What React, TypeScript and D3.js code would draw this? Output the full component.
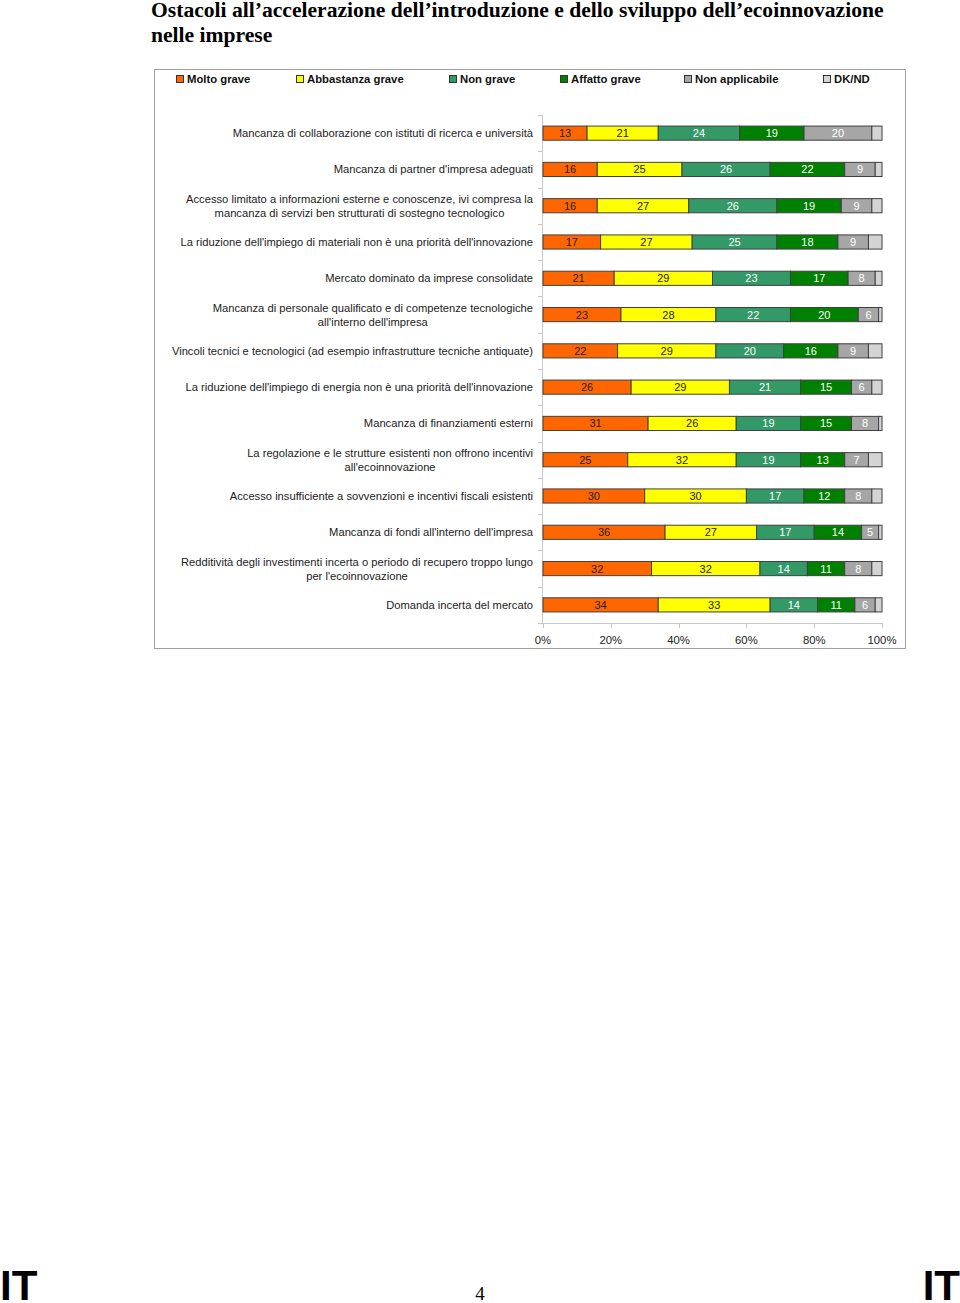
import React, { useRef, useEffect } from 'react';
import * as d3 from 'd3';

const categories: string[][] = [
  ['Mancanza di collaborazione con istituti di ricerca e università'],
  ["Mancanza di partner d'impresa adeguati"],
  ['Accesso limitato a informazioni esterne e conoscenze, ivi compresa la', 'mancanza di servizi ben strutturati di sostegno tecnologico'],
  ["La riduzione dell'impiego di materiali non è una priorità dell'innovazione"],
  ['Mercato dominato da imprese consolidate'],
  ['Mancanza di personale qualificato e di competenze tecnologiche', "all'interno dell'impresa"],
  ['Vincoli tecnici e tecnologici (ad esempio infrastrutture tecniche antiquate)'],
  ["La riduzione dell'impiego di energia non è una priorità dell'innovazione"],
  ['Mancanza di finanziamenti esterni'],
  ['La regolazione e le strutture esistenti non offrono incentivi', "all'ecoinnovazione"],
  ['Accesso insufficiente a sovvenzioni e incentivi fiscali esistenti'],
  ["Mancanza di fondi all'interno dell'impresa"],
  ['Redditività degli investimenti incerta o periodo di recupero troppo lungo', "per l'ecoinnovazione"],
  ['Domanda incerta del mercato'],
];

const seriesNames = ['Molto grave', 'Abbastanza grave', 'Non grave', 'Affatto grave', 'Non applicabile', 'DK/ND'];
const seriesColors = ['#FF6600', '#FFFF00', '#339966', '#008000', '#A6A6A6', '#D4D4D4'];
const labelColors = ['#222', '#222', '#fff', '#fff', '#fff', '#fff'];

const moltoGrave = [13, 16, 16, 17, 21, 23, 22, 26, 31, 25, 30, 36, 32, 34];
const abbastanzaGrave = [21, 25, 27, 27, 29, 28, 29, 29, 26, 32, 30, 27, 32, 33];
const nonGrave = [24, 26, 26, 25, 23, 22, 20, 21, 19, 19, 17, 17, 14, 14];
const affattoGrave = [19, 22, 19, 18, 17, 20, 16, 15, 15, 13, 12, 14, 11, 11];
const nonApplicabile = [20, 9, 9, 9, 8, 6, 9, 6, 8, 7, 8, 5, 8, 6];
const dkNd = [3, 2, 3, 4, 2, 1, 4, 3, 1, 4, 3, 1, 3, 2];

const xTicks = [0, 20, 40, 60, 80, 100];

const font = 'Liberation Sans, Arial, sans-serif';

export default function App() {
  const ref = useRef<SVGSVGElement | null>(null);

  useEffect(() => {
    if (!ref.current) return;
    const svg = d3.select(ref.current);
    svg.selectAll('*').remove();

    const series = [moltoGrave, abbastanzaGrave, nonGrave, affattoGrave, nonApplicabile, dkNd];

    // title
    const title = svg.append('text')
      .attr('font-family', 'Liberation Serif, Times New Roman, serif')
      .attr('font-weight', 'bold')
      .attr('font-size', 21.6)
      .attr('fill', '#000');
    title.append('tspan').attr('x', 151).attr('y', 17).text('Ostacoli all’accelerazione dell’introduzione e dello sviluppo dell’ecoinnovazione');
    title.append('tspan').attr('x', 151).attr('y', 42).text('nelle imprese');

    // frame
    svg.append('rect')
      .attr('x', 154.5).attr('y', 69.5)
      .attr('width', 751).attr('height', 579)
      .attr('fill', '#fff')
      .attr('stroke', '#a0a0a0');

    // legend
    const legendX = [176, 296, 449, 560, 684, 823];
    const legend = svg.append('g');
    seriesNames.forEach((name, i) => {
      legend.append('rect')
        .attr('x', legendX[i] + 0.5).attr('y', 75.5)
        .attr('width', 7).attr('height', 7)
        .attr('fill', seriesColors[i])
        .attr('stroke', '#333');
      legend.append('text')
        .attr('x', legendX[i] + 11).attr('y', 83)
        .attr('font-family', font)
        .attr('font-size', 11.3)
        .attr('font-weight', 'bold')
        .attr('fill', '#111')
        .text(name);
    });

    const x = d3.scaleLinear().domain([0, 100]).range([543, 882]);
    const y = d3.scaleBand<number>()
      .domain(d3.range(categories.length))
      .range([115, 623])
      .paddingInner(0.61)
      .paddingOuter(0.305);
    const step = y.step();

    // axes
    svg.append('line')
      .attr('x1', 542.5).attr('x2', 542.5)
      .attr('y1', 115).attr('y2', 623)
      .attr('stroke', '#c8c8c8');
    d3.range(categories.length + 1).forEach(i => {
      const yy = Math.round(115 + i * step) + 0.5;
      svg.append('line')
        .attr('x1', 538).attr('x2', 543)
        .attr('y1', yy).attr('y2', yy)
        .attr('stroke', '#c8c8c8');
    });
    svg.append('line')
      .attr('x1', 542).attr('x2', 882)
      .attr('y1', 623.5).attr('y2', 623.5)
      .attr('stroke', '#c8c8c8');
    xTicks.forEach(t => {
      svg.append('line')
        .attr('x1', Math.round(x(t)) + 0.5).attr('x2', Math.round(x(t)) + 0.5)
        .attr('y1', 623).attr('y2', 628)
        .attr('stroke', '#c8c8c8');
      svg.append('text')
        .attr('x', x(t)).attr('y', 644)
        .attr('text-anchor', 'middle')
        .attr('font-family', font)
        .attr('font-size', 11.3)
        .attr('fill', '#222')
        .text(`${t}%`);
    });

    // category labels
    categories.forEach((lines, i) => {
      const cy = (y(i) as number) + y.bandwidth() / 2;
      const g = svg.append('g');
      const texts = lines.map((ln, j) =>
        g.append('text')
          .attr('y', cy + 4 + (j - (lines.length - 1) / 2) * 14)
          .attr('font-family', font)
          .attr('font-size', 11.2)
          .attr('fill', '#222')
          .text(ln)
      );
      const widths = texts.map(t => (t.node() as SVGTextElement).getComputedTextLength());
      const maxW = Math.max(...widths);
      const center = 533 - maxW / 2;
      texts.forEach(t => t.attr('x', center).attr('text-anchor', 'middle'));
    });

    // bars
    categories.forEach((_, i) => {
      let acc = 0;
      series.forEach((s, k) => {
        const v = s[i];
        const x0 = x(acc);
        const x1 = x(acc + v);
        acc += v;
        svg.append('rect')
          .attr('x', x0).attr('y', y(i) as number)
          .attr('width', x1 - x0).attr('height', y.bandwidth())
          .attr('fill', seriesColors[k])
          .attr('stroke', '#404040')
          .attr('stroke-width', 1);
        if (k < 5) {
          svg.append('text')
            .attr('x', (x0 + x1) / 2)
            .attr('y', (y(i) as number) + y.bandwidth() / 2 + 4)
            .attr('text-anchor', 'middle')
            .attr('font-family', font)
            .attr('font-size', 11)
            .attr('fill', labelColors[k])
            .text(v);
        }
      });
    });

    // footer
    svg.append('text')
      .attr('x', 0).attr('y', 1300)
      .attr('font-family', font)
      .attr('font-weight', 'bold')
      .attr('font-size', 42)
      .attr('fill', '#000')
      .text('IT');
    svg.append('text')
      .attr('x', 960).attr('y', 1300)
      .attr('text-anchor', 'end')
      .attr('font-family', font)
      .attr('font-weight', 'bold')
      .attr('font-size', 42)
      .attr('fill', '#000')
      .text('IT');
    svg.append('text')
      .attr('x', 480).attr('y', 1300)
      .attr('text-anchor', 'middle')
      .attr('font-family', 'Liberation Serif, Times New Roman, serif')
      .attr('font-size', 19)
      .attr('fill', '#000')
      .text('4');
  }, []);

  return (
    <svg
      ref={ref}
      width={960}
      height={1303}
      style={{ position: 'absolute', left: 0, top: 0, background: '#fff' }}
    />
  );
}
